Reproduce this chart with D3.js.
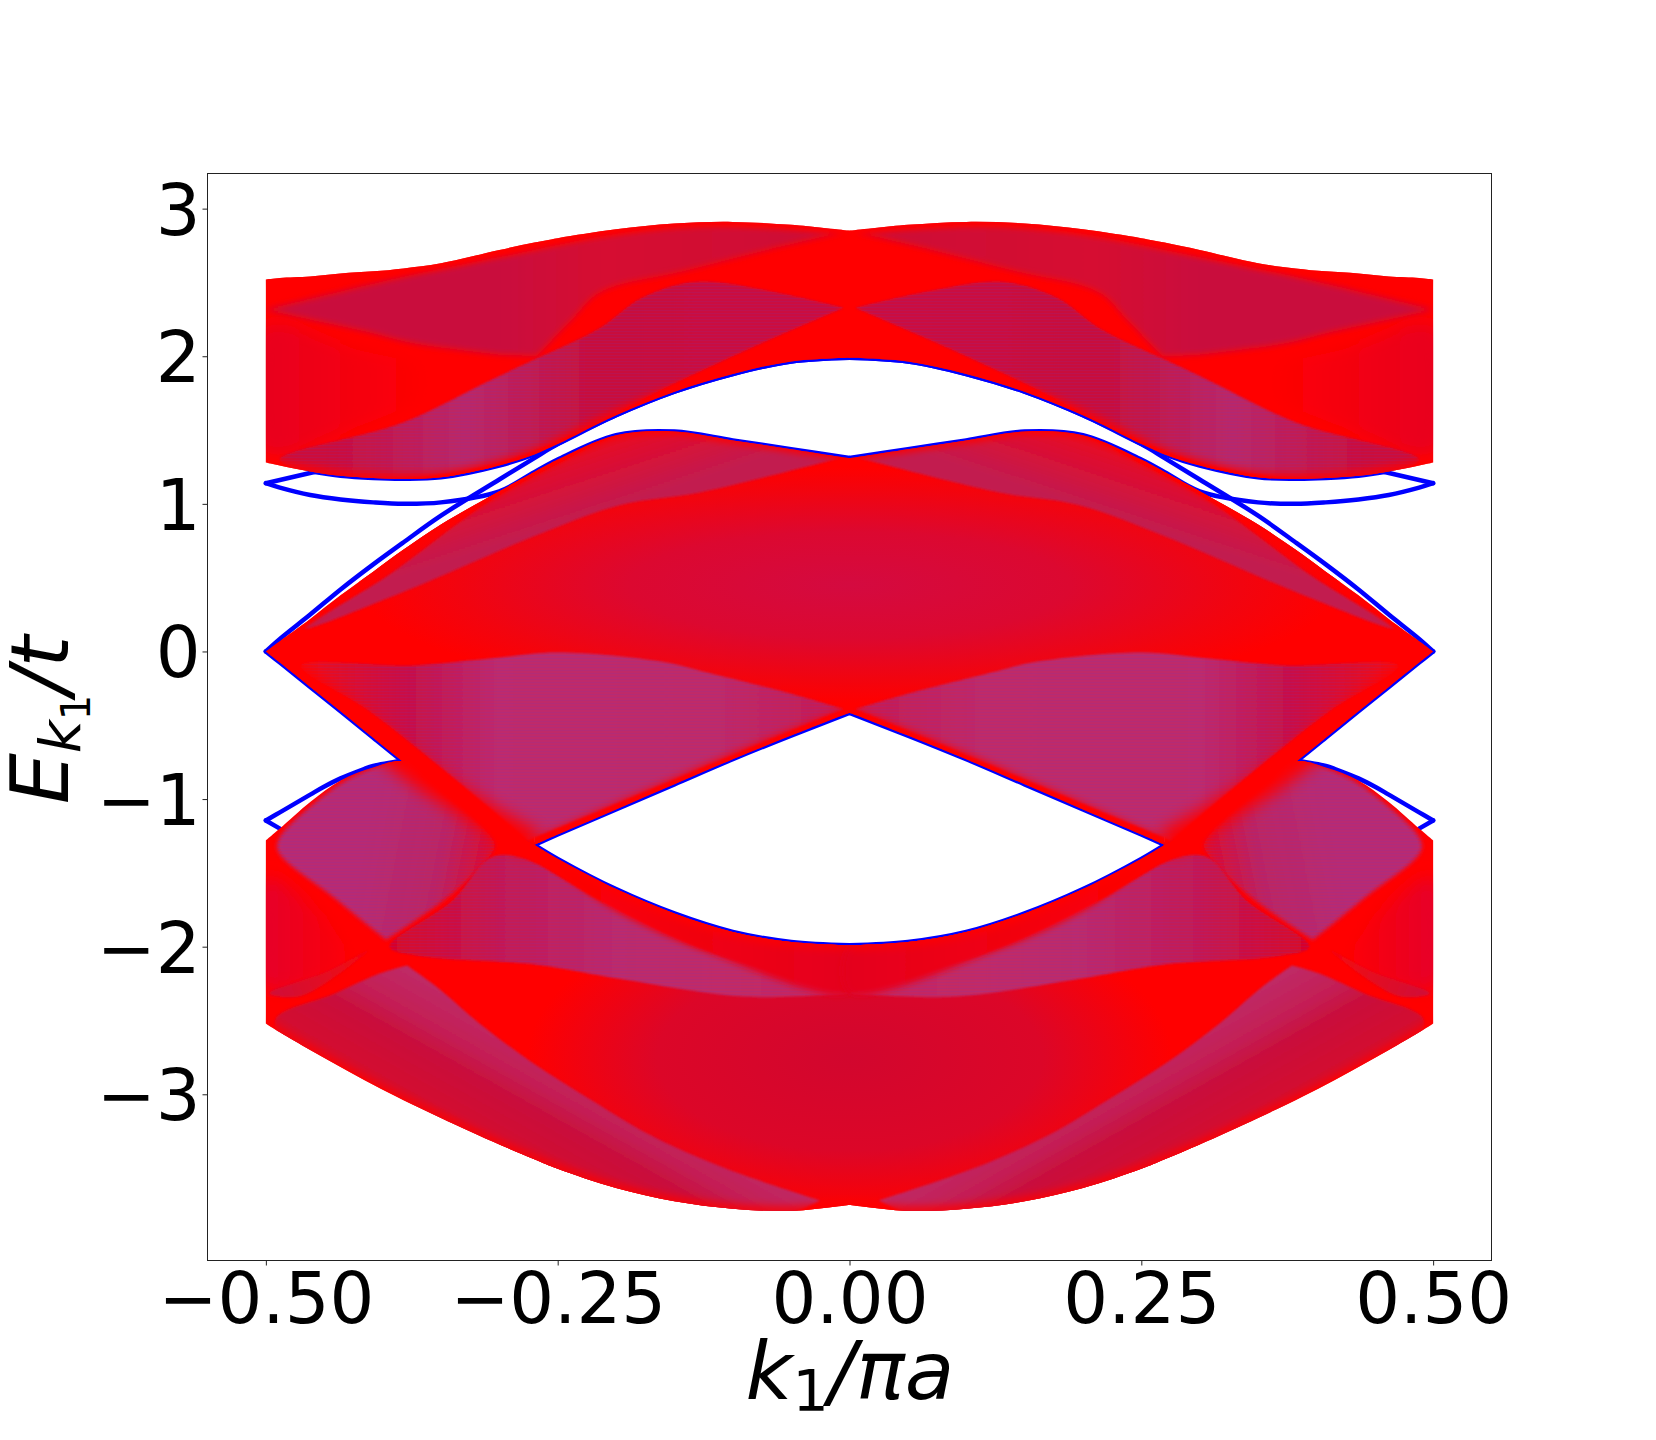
<!DOCTYPE html>
<html>
<head>
<meta charset="utf-8">
<style>
  html, body { margin: 0; background: #fff; }
  text { font-family: "DejaVu Sans", sans-serif; fill: #000; }
</style>
<script src="https://cdn.jsdelivr.net/npm/d3@7"></script>
</head>
<body>
<div id="chart"></div>
<script>
var xTicks = [-0.5, -0.25, 0, 0.25, 0.5];
var yTicks = [-3, -2, -1, 0, 1, 2, 3];

// Left half of the band edges, the right half is the mirror image.
var kGrid       = [-0.5, -0.488, -0.462, -0.436, -0.408, -0.382, -0.35, -0.3, -0.27, -0.25, -0.2, -0.15, -0.1, -0.05, 0];
var upperTop    = [2.52, 2.53, 2.54, 2.56, 2.575, 2.595, 2.63, 2.72, 2.77, 2.80, 2.86, 2.90, 2.91, 2.89, 2.85];
var upperBottom = [1.28, 1.26, 1.22, 1.19, 1.175, 1.17, 1.18, 1.26, 1.335, 1.405, 1.60, 1.76, 1.88, 1.965, 1.99];
var middleTop   = [0, 0.07, 0.22, 0.38, 0.54, 0.69, 0.86, 1.085, 1.215, 1.30, 1.465, 1.49, 1.43, 1.37, 1.31];
var middleBottom = [0, -0.075, -0.24, -0.405, -0.585, -0.75, -0.93, -1.17, -1.31, -1.24, -1.07, -0.90, -0.73, -0.57, -0.417];
var lowerTop    = [-1.28, -1.20, -1.02, -0.874, -0.786, -0.745, -0.90, -1.16, -1.31, -1.405, -1.61, -1.775, -1.90, -1.968, -1.99];
var lowerBottom = [-2.52, -2.58, -2.70, -2.815, -2.935, -3.04, -3.16, -3.34, -3.44, -3.505, -3.635, -3.725, -3.775, -3.79, -3.75];

// Blue edge states, drawn under the red ones.
var blueGap   = [0, 0.085, 0.25, 0.42, 0.59, 0.74, 0.92, 1.165, 1.31, 1.405, 1.60, 1.76, 1.88, 1.965, 1.99];
var blueLoopB = [1.14, 1.11, 1.06, 1.03, 1.01, 1.0, 1.01, 1.085, 1.215, 1.30, 1.465, 1.49, 1.43, 1.37, 1.31];
var blueLoopAK = [-0.5, -0.44];
var blueLoopA  = [1.14, 1.25];
var blueDomeK = [-0.5, -0.488, -0.462, -0.451, -0.436, -0.417, -0.408, -0.382];
var blueDome  = [-1.145, -1.09, -0.97, -0.92, -0.86, -0.80, -0.775, -0.738];
var blueHookK = [-0.5, -0.488];
var blueHook  = [-1.145, -1.20];

// Outlines of the darker patches inside the bands, as [k, E]. A repeated point is a sharp corner.
var patchUpperLeft = [[-0.5, 2.2], [-0.43, 2.06], [-0.34, 1.85], [-0.43, 1.5], [-0.5, 1.35]];
var patchUpperLens = [[-0.5, 2.315], [-0.5, 2.315], [-0.369, 2.56], [-0.282, 2.70], [-0.2, 2.83], [-0.124, 2.89], [-0.052, 2.87], [-0.005, 2.843], [-0.005, 2.843], [-0.07, 2.722], [-0.142, 2.577], [-0.214, 2.432], [-0.239, 2.238], [-0.268, 2.0], [-0.268, 2.0], [-0.304, 2.015], [-0.34, 2.05], [-0.376, 2.093], [-0.412, 2.165], [-0.448, 2.226]];
var patchUpperMid  = [[-0.488, 1.299], [-0.383, 1.549], [-0.304, 1.851], [-0.268, 1.984], [-0.214, 2.19], [-0.178, 2.395], [-0.131, 2.504], [-0.07, 2.444], [-0.005, 2.328], [-0.005, 2.328], [-0.088, 2.044], [-0.16, 1.778], [-0.232, 1.488], [-0.304, 1.27], [-0.394, 1.17], [-0.466, 1.22]];
var patchMiddleTop = [[-0.466, 0.158], [-0.394, 0.521], [-0.311, 1.004], [-0.25, 1.27], [-0.203, 1.45], [-0.163, 1.49], [-0.088, 1.42], [-0.008, 1.31], [-0.008, 1.31], [-0.128, 1.077], [-0.196, 0.992], [-0.268, 0.787], [-0.376, 0.424]];
var patchMiddleCore = [[-0.42, 1.25], [0.42, 1.25], [0.42, -0.35], [-0.42, -0.35]];
var patchMiddleLow = [[-0.47, -0.096], [-0.376, -0.096], [-0.31, -0.05], [-0.25, -0.007], [-0.16, -0.07], [-0.128, -0.13], [-0.06, -0.265], [-0.005, -0.39], [-0.005, -0.39], [-0.088, -0.66], [-0.16, -0.9], [-0.275, -1.28], [-0.275, -1.28], [-0.34, -0.85], [-0.412, -0.4]];
var patchDome      = [[-0.489, -1.275], [-0.459, -1.034], [-0.423, -0.84], [-0.383, -0.755], [-0.361, -0.888], [-0.304, -1.30], [-0.307, -1.372], [-0.34, -1.638], [-0.397, -1.953], [-0.397, -1.953], [-0.41, -1.87], [-0.441, -1.67], [-0.489, -1.36]];
var patchLowerMid  = [[-0.307, -1.396], [-0.282, -1.396], [-0.214, -1.687], [-0.124, -2.025], [0, -2.316], [0, -2.316], [-0.088, -2.34], [-0.196, -2.219], [-0.268, -2.122], [-0.369, -2.062], [-0.394, -2.0], [-0.34, -1.687]];
var patchLowerStrip = [[-0.25, -1.45], [-0.12, -1.87], [0, -2.0], [0, -2.31], [-0.124, -2.03], [-0.214, -1.69]];
var patchLowerLeft = [[-0.5, -1.54], [-0.448, -1.83], [-0.43, -2.10], [-0.5, -2.27]];
var patchLowerLens = [[-0.491, -2.48], [-0.441, -2.317], [-0.402, -2.18], [-0.379, -2.127], [-0.379, -2.127], [-0.353, -2.276], [-0.317, -2.52], [-0.271, -2.79], [-0.221, -3.04], [-0.172, -3.27], [-0.107, -3.50], [-0.025, -3.72], [-0.025, -3.72], [-0.05, -3.80], [-0.1, -3.79], [-0.15, -3.73], [-0.2, -3.64], [-0.25, -3.52], [-0.3, -3.35], [-0.35, -3.17], [-0.4, -2.96], [-0.45, -2.75], [-0.49, -2.58]];
var patchSliver    = [[-0.497, -2.316], [-0.448, -2.17], [-0.412, -2.025], [-0.448, -2.243], [-0.473, -2.34]];
var patchLowerCore = [[-0.3, -1.6], [0.3, -1.6], [0.3, -3.9], [-0.3, -3.9]];

var svgWidth = 1656;
var svgHeight = 1440;

var svg = d3.select("#chart").append("svg")
    .attr("width", svgWidth)
    .attr("height", svgHeight)
    .style("display", "block");

var x = d3.scaleLinear().domain([-0.55, 0.55]).range([207.5, 1491.5]);
var y = d3.scaleLinear().domain([-4.126, 3.238]).range([1260.5, 173.5]);

var defs = svg.append("defs");
[1, 2, 3, 4, 5, 8].forEach(function(b) {
    defs.append("filter")
        .attr("id", "blur" + b)
        .attr("filterUnits", "userSpaceOnUse")
        .attr("x", 0).attr("y", 0).attr("width", svgWidth).attr("height", svgHeight)
        .append("feGaussianBlur").attr("stdDeviation", b);
});

// Fine stripes standing in for the individual lines of the sparse regions.
var stripes = defs.append("pattern")
    .attr("id", "stripes")
    .attr("patternUnits", "userSpaceOnUse")
    .attr("width", 8).attr("height", 3);
stripes.append("rect").attr("y", 1).attr("width", 8).attr("height", 1).attr("fill", "#5a3cd0");

var curve = d3.curveCatmullRom.alpha(0.5);
var overlap = 0.0006; // halves overlap a hair so no seam shows at k = 0

function bandPath(ks, top, bottom, sign) {
    var n = ks.length - 1;
    var kk = ks[n] === 0 ? ks.concat([overlap]) : ks;
    var tt = ks[n] === 0 ? top.concat([top[n]]) : top;
    var bb = ks[n] === 0 ? bottom.concat([bottom[n]]) : bottom;
    return d3.area()
        .x(function(d) { return x(sign * d); })
        .y0(function(d, i) { return y(bb[i]); })
        .y1(function(d, i) { return y(tt[i]); })
        .curve(curve)(kk);
}

function curvePath(ks, es, sign) {
    return d3.line()
        .x(function(d) { return x(sign * d); })
        .y(function(d, i) { return y(es[i]); })
        .curve(curve)(ks);
}

var sides = [1, -1];
var vee = 8; // index of the corner in the lower edge of the middle band

// Blue states first.
var blueGroup = svg.append("g").attr("fill", "none").attr("stroke", "#0000ff")
    .attr("stroke-width", 4.5).attr("stroke-linecap", "round").attr("stroke-linejoin", "round");
var blueCurves = [
    [kGrid, blueGap], [kGrid.slice(2), upperBottom.slice(2)], [kGrid, blueLoopB], [blueLoopAK, blueLoopA],
    [kGrid.slice(0, vee + 1), middleBottom.slice(0, vee + 1)],
    [kGrid.slice(vee), middleBottom.slice(vee)],
    [kGrid.slice(vee), lowerTop.slice(vee)],
    [blueDomeK, blueDome], [blueHookK, blueHook]
];
sides.forEach(function(sign) {
    blueCurves.forEach(function(c) {
        blueGroup.append("path").attr("d", curvePath(c[0], c[1], sign));
    });
});

// Red bands over them.
var bands = [
    [kGrid, upperTop, upperBottom],
    [kGrid.slice(0, vee + 1), middleTop.slice(0, vee + 1), middleBottom.slice(0, vee + 1)],
    [kGrid.slice(vee), middleTop.slice(vee), middleBottom.slice(vee)],
    [kGrid, lowerTop, lowerBottom]
];
var clip = defs.append("clipPath").attr("id", "bandClip");
sides.forEach(function(sign) {
    bands.forEach(function(b) {
        svg.append("path").attr("d", bandPath(b[0], b[1], b[2], sign)).attr("fill", "#ff0000");
        clip.append("path").attr("d", bandPath(b[0], b[1], b[2], sign));
    });
});

// Patches are coloured by gradients: a hard edge on one side, fading to red on the other.
var wholeBand = [
    { pts: patchMiddleCore, stops: [[0, "#d40a40"], [0.45, "#dc0830"], [0.8, "#f2040f"], [1, "#ff0000"]] },
    { pts: patchLowerCore,  stops: [[0, "#d2062e"], [0.55, "#dc0628"], [0.92, "#ff0000"]] }
];

var patches = [
    { pts: patchUpperLeft, blur: 8, from: [-0.5, 1.8], to: [-0.36, 1.8], stops: [[0, "#e80620"], [1, "#ff0000"]] },
    { pts: patchUpperLens, blur: 3, from: [-0.3, 2.5], to: [0, 2.5], stops: [[0, "#c9103e"], [0.3, "#d60c30"], [1, "#cc1038"]] },
    { pts: patchUpperMid,  blur: 1, striped: true, from: [-0.45, 1.8], to: [0, 1.8], stops: [[0, "#cc0c3a"], [0.27, "#bb2868"], [0.5, "#c8103e"], [1, "#cc1040"]] },
    { pts: patchMiddleTop, blur: 1, from: [-0.196, 0.99], to: [-0.212, 1.376], stops: [[0, "#c21c50"], [1, "#e40a28"]] },
    { pts: patchMiddleLow, blur: 1, striped: true, from: [-0.47, 0], to: [0, 0], stops: [[0, "#f00818"], [0.2, "#c81048"], [0.36, "#bf2a6c"], [0.75, "#c02a68"], [1, "#c81a50"]] },
    { pts: patchDome,      blur: 2, striped: true, from: [-0.42, -1.45], to: [-0.31, -1.62], stops: [[0, "#b92c72"], [0.6, "#bd2462"], [1, "#e0082a"]] },
    { pts: patchLowerMid,  blur: 1, striped: true, from: [-0.39, 0], to: [0, 0], stops: [[0, "#d8062a"], [0.25, "#c41a55"], [0.5, "#bd2a6c"], [1, "#c8285e"]] },
    { pts: patchLowerStrip, blur: 3, from: [-0.27, 0], to: [0, 0], stops: [[0, "#ff0000"], [1, "#e4061f"]] },
    { pts: patchLowerLeft, blur: 8, from: [-0.5, -1.9], to: [-0.42, -1.9], stops: [[0, "#e6062a"], [1, "#ff0000"]] },
    { pts: patchLowerLens, blur: 1, from: [-0.211, -2.898], to: [-0.257, -3.548], stops: [[0, "#bf2a66"], [0.35, "#c41e54"], [0.55, "#c90f3c"], [1, "#d40a2e"]] },
    { pts: patchSliver,    blur: 1, from: [-0.497, -2.3], to: [-0.412, -2.03], stops: [[0, "#d00c38"], [1, "#f4060f"]] }
];

// Red glow along the densely packed band edges.
var glows = [
    { ks: kGrid, es: upperTop, width: 8, blur: 3 },
    { ks: kGrid, es: upperBottom, width: 10, blur: 4 },
    { ks: kGrid, es: middleTop, width: 6, blur: 3 },
    { ks: kGrid.slice(0, vee + 1), es: middleBottom.slice(0, vee + 1), width: 26, blur: 8 },
    { ks: kGrid.slice(vee), es: middleBottom.slice(vee), width: 10, blur: 4 },
    { ks: kGrid.slice(vee), es: lowerTop.slice(vee), width: 8, blur: 4 },
    { ks: kGrid, es: lowerBottom, width: 8, blur: 4 }
];

var rectLine = d3.line()
    .x(function(d) { return x(d[0]); })
    .y(function(d) { return y(d[1]); })
    .curve(d3.curveLinearClosed);

var patchLine = d3.line()
    .x(function(d) { return x(d[0]); })
    .y(function(d) { return y(d[1]); })
    .curve(d3.curveCatmullRomClosed.alpha(0.5));

function addStops(grad, stops) {
    stops.forEach(function(s) {
        grad.append("stop").attr("offset", s[0]).attr("stop-color", s[1]);
    });
}

var patchGroup = svg.append("g").attr("clip-path", "url(#bandClip)");

wholeBand.forEach(function(p, i) {
    var grad = defs.append("radialGradient").attr("id", "core" + i)
        .attr("cx", 0.5).attr("cy", 0.5).attr("r", 0.5);
    addStops(grad, p.stops);
    patchGroup.append("path").attr("d", rectLine(p.pts)).attr("fill", "url(#core" + i + ")");
});

sides.forEach(function(sign, s) {
    patches.forEach(function(p, i) {
        var id = "grad" + s + "_" + i;
        var grad = defs.append("linearGradient").attr("id", id)
            .attr("gradientUnits", "userSpaceOnUse")
            .attr("x1", x(sign * p.from[0])).attr("y1", y(p.from[1]))
            .attr("x2", x(sign * p.to[0])).attr("y2", y(p.to[1]));
        addStops(grad, p.stops);
        var pts = p.pts.map(function(d) { return [sign * d[0], d[1]]; });
        patchGroup.append("path")
            .attr("d", patchLine(pts))
            .attr("fill", "url(#" + id + ")")
            .attr("filter", "url(#blur" + p.blur + ")");
        if (p.striped) {
            patchGroup.append("path")
                .attr("d", patchLine(pts))
                .attr("fill", "url(#stripes)")
                .attr("opacity", 0.12);
        }
    });
    glows.forEach(function(g) {
        patchGroup.append("path")
            .attr("d", curvePath(g.ks, g.es, sign))
            .attr("fill", "none").attr("stroke", "#ff0000")
            .attr("stroke-width", g.width)
            .attr("filter", "url(#blur" + g.blur + ")");
    });
});

// Axes.
function minus(s) { return s.replace("-", "\u2212"); }

var xAxis = svg.append("g")
    .attr("transform", "translate(0," + y.range()[0] + ")")
    .call(d3.axisBottom(x).tickValues(xTicks).tickSize(5).tickPadding(7)
        .tickFormat(function(d) { return minus(d3.format(".2f")(d)); }));
var yAxis = svg.append("g")
    .attr("transform", "translate(" + x.range()[0] + ",0)")
    .call(d3.axisLeft(y).tickValues(yTicks).tickSize(5).tickPadding(2)
        .tickFormat(function(d) { return minus(String(d)); }));

[xAxis, yAxis].forEach(function(a) {
    a.select(".domain").remove();
    a.selectAll("line").attr("stroke", "#222").attr("stroke-width", 1);
    a.selectAll("text").attr("font-size", 70.5).attr("font-family", "DejaVu Sans").attr("fill", "#000");
});
yAxis.selectAll("text").attr("dy", "0.36em");

svg.append("rect")
    .attr("x", x.range()[0]).attr("y", y.range()[1])
    .attr("width", x.range()[1] - x.range()[0])
    .attr("height", y.range()[0] - y.range()[1])
    .attr("fill", "none").attr("stroke", "#222").attr("stroke-width", 1);

// Axis labels with their subscripts.
var xLabel = svg.append("text")
    .attr("x", 850).attr("y", 1399)
    .attr("text-anchor", "middle").attr("font-size", 81).attr("font-style", "italic");
xLabel.append("tspan").text("k");
xLabel.append("tspan").attr("dy", 12).attr("font-size", 57).attr("font-style", "normal").text("1");
xLabel.append("tspan").attr("dy", -12).text("/\u03c0a");

var yLabel = svg.append("text")
    .attr("transform", "translate(68,720) rotate(-90)")
    .attr("text-anchor", "middle").attr("font-size", 81).attr("font-style", "italic");
yLabel.append("tspan").text("E");
yLabel.append("tspan").attr("dy", 12).attr("font-size", 57).text("k");
yLabel.append("tspan").attr("dy", 10).attr("font-size", 40).attr("font-style", "normal").text("1");
yLabel.append("tspan").attr("dy", -22).text("/t");
</script>
</body>
</html>
